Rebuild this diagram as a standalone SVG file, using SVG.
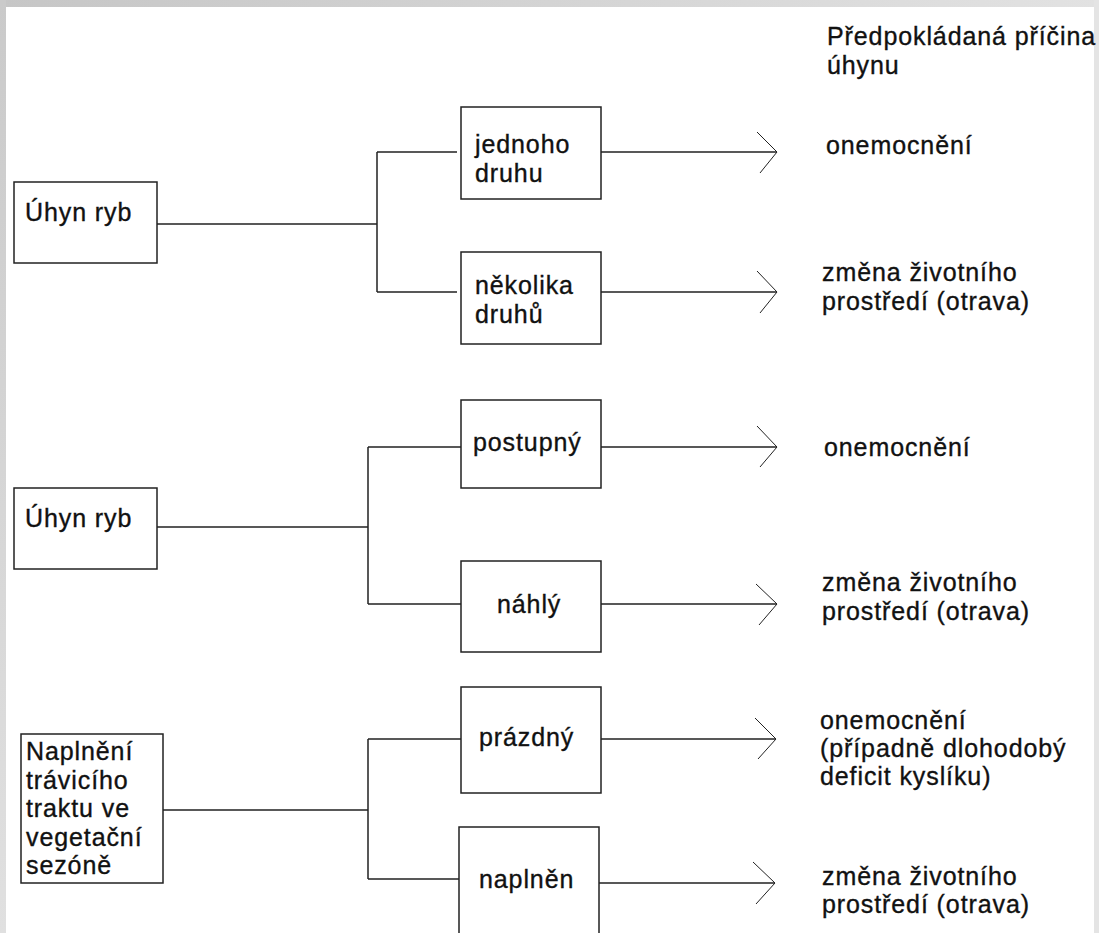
<svg xmlns="http://www.w3.org/2000/svg" width="1099" height="933" viewBox="0 0 1099 933">
<defs>
<linearGradient id="topband" x1="0" y1="0" x2="1" y2="0">
<stop offset="0" stop-color="#c6c6c6"/>
<stop offset="1" stop-color="#e2e2e2"/>
</linearGradient>
<linearGradient id="leftband" x1="0" y1="0" x2="0" y2="1">
<stop offset="0" stop-color="#cacaca"/>
<stop offset="1" stop-color="#e0e0e0"/>
</linearGradient>
</defs>
<style>
.box{fill:#fff;stroke:#222;stroke-width:1.5}
.ln{fill:none;stroke:#222;stroke-width:1.5}
.ah{fill:none;stroke:#222;stroke-width:1}
text{font-family:"Liberation Sans",Arial,sans-serif;font-size:25px;fill:#111;stroke:#111;stroke-width:0.35;letter-spacing:0.9px}
</style>
<rect x="0" y="0" width="1099" height="933" fill="#fff"/>
<rect x="0" y="0" width="1099" height="7" fill="url(#topband)"/>
<rect x="0" y="0" width="6" height="933" fill="url(#leftband)"/>
<rect x="1094" y="0" width="5" height="933" fill="#e4e4e4"/>

<g id="header">
<text x="827" y="45">Předpokládaná příčina</text>
<text x="827" y="74">úhynu</text>
</g>

<g id="connectors">
<path class="ln" d="M157,224 H377 M377,152 V292 M377,152 H457 M377,292 H457"/>
<path class="ln" d="M601,152 H777 M601,292 H777"/>
<polyline class="ah" points="757,132 777,152 760,173"/>
<polyline class="ah" points="757,271 777,292 760,313"/>
<path class="ln" d="M157,527 H368 M368,447 V604 M368,447 H461 M368,604 H461"/>
<path class="ln" d="M601,447 H777 M601,604 H777"/>
<polyline class="ah" points="757,426 777,447 760,467"/>
<polyline class="ah" points="756,584 777,604 759,625"/>
<path class="ln" d="M163,810 H368 M368,739 V879 M368,739 H461 M368,879 H459"/>
<path class="ln" d="M601,739 H776 M599,883 H775"/>
<polyline class="ah" points="755,718 776,739 758,759"/>
<polyline class="ah" points="753,862 775,883 756,904"/>
</g>

<g id="n-uhyn1">
<rect class="box" x="14" y="182" width="143" height="81"/>
<text x="25" y="221">Úhyn ryb</text>
</g>
<g id="n-jednoho">
<rect class="box" x="461" y="107" width="140" height="92"/>
<text x="475" y="153">jednoho</text>
<text x="475" y="182">druhu</text>
</g>
<g id="n-nekolika">
<rect class="box" x="461" y="252" width="140" height="92"/>
<text x="475" y="294">několika</text>
<text x="475" y="323">druhů</text>
</g>
<g id="r-1">
<text x="826" y="154">onemocnění</text>
</g>
<g id="r-2">
<text x="822" y="281">změna životního</text>
<text x="822" y="310">prostředí (otrava)</text>
</g>

<g id="n-uhyn2">
<rect class="box" x="14" y="488" width="143" height="81"/>
<text x="25" y="527">Úhyn ryb</text>
</g>
<g id="n-postupny">
<rect class="box" x="461" y="400" width="140" height="88"/>
<text x="473" y="451">postupný</text>
</g>
<g id="n-nahly">
<rect class="box" x="461" y="561" width="140" height="91"/>
<text x="497" y="613">náhlý</text>
</g>
<g id="r-3">
<text x="824" y="456">onemocnění</text>
</g>
<g id="r-4">
<text x="822" y="591">změna životního</text>
<text x="822" y="620">prostředí (otrava)</text>
</g>

<g id="n-napln">
<rect class="box" x="21" y="734" width="142" height="149"/>
<text x="26" y="760">Naplnění</text>
<text x="26" y="789">trávicího</text>
<text x="26" y="817">traktu ve</text>
<text x="26" y="846">vegetační</text>
<text x="26" y="874">sezóně</text>
</g>
<g id="n-prazdny">
<rect class="box" x="461" y="687" width="140" height="106"/>
<text x="479" y="746">prázdný</text>
</g>
<g id="n-naplnen">
<rect class="box" x="459" y="827" width="140" height="120"/>
<text x="479" y="888">naplněn</text>
</g>
<g id="r-5">
<text x="820" y="729">onemocnění</text>
<text x="820" y="757">(případně dlohodobý</text>
<text x="820" y="785">deficit kyslíku)</text>
</g>
<g id="r-6">
<text x="822" y="885">změna životního</text>
<text x="822" y="913">prostředí (otrava)</text>
</g>
</svg>
